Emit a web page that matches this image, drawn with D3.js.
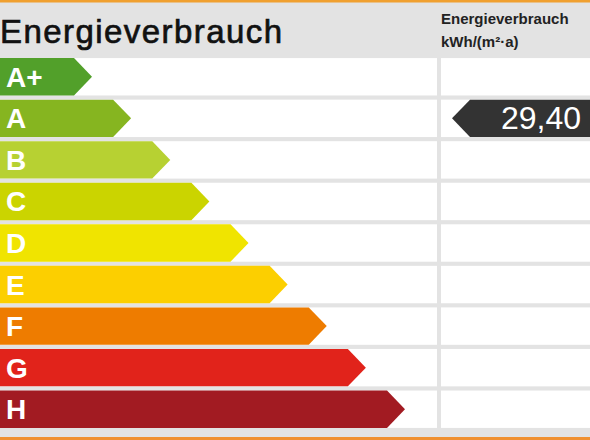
<!DOCTYPE html>
<html>
<head>
<meta charset="utf-8">
<script src="https://cdn.jsdelivr.net/npm/d3@7"></script>
<style>
  body { margin: 0; background: #fff; }
  text { font-family: "Liberation Sans", Arial, sans-serif; }
</style>
</head>
<body>
<script>
// energy label: classes, colours, and the one value
var classes = ["A+", "A", "B", "C", "D", "E", "F", "G", "H"];
var colors = ["#52a02a", "#86b520", "#b7d132", "#cbd400", "#f0e400", "#fccf00", "#ee7c00", "#e1231b", "#a21b22"];
var valueClass = "A";
var valueLabel = "29,40";

var w = 590, h = 440;
var svg = d3.select("body").append("svg").attr("width", w).attr("height", h);

// background grey + orange borders
svg.append("rect").attr("width", w).attr("height", h).attr("fill", "#e3e3e3");
svg.append("rect").attr("width", w).attr("height", 2.5).attr("fill", "#f0a030");
svg.append("rect").attr("y", 437).attr("width", w).attr("height", 3).attr("fill", "#f09030");

var y = d3.scaleBand().domain(classes).range([56, 430]).paddingInner(0.1).paddingOuter(0.05);
var tip = d3.scaleLinear().domain([0, classes.length - 1]).range([92, 405]);

// white row cells
var rows = svg.selectAll("g.row").data(classes).enter().append("g")
  .attr("transform", function(d) { return "translate(0," + y(d) + ")"; });
rows.append("rect").attr("x", 0).attr("width", 437).attr("height", y.bandwidth()).attr("fill", "#fff");
rows.append("rect").attr("x", 441).attr("width", w - 441).attr("height", y.bandwidth()).attr("fill", "#fff");

// arrows
rows.append("path")
  .attr("d", function(d, i) {
    var t = tip(i), bh = y.bandwidth();
    return "M0,0H" + (t - 18) + "L" + t + "," + bh / 2 + "L" + (t - 18) + "," + bh + "H0Z";
  })
  .attr("fill", function(d, i) { return colors[i]; });
rows.append("text").attr("x", 6).attr("y", y.bandwidth() / 2 + 10)
  .attr("fill", "#fff").attr("font-weight", "bold").attr("font-size", 28)
  .text(function(d) { return d; });

// value marker
var vy = y(valueClass), bh = y.bandwidth();
svg.append("path")
  .attr("d", "M452," + (vy + bh / 2) + "L470," + vy + "H590V" + (vy + bh) + "H470Z")
  .attr("fill", "#333");
svg.append("text").attr("x", 581).attr("y", vy + bh / 2 + 11).attr("text-anchor", "end")
  .attr("fill", "#fff").attr("font-size", 32).text(valueLabel);

// headings
svg.append("text").attr("x", 0).attr("y", 43).attr("font-size", 33).attr("fill", "#111")
  .attr("stroke", "#111").attr("stroke-width", 0.7).attr("textLength", 282)
  .text("Energieverbrauch");
svg.append("text").attr("x", 441).attr("y", 24).attr("font-size", 15).attr("font-weight", "bold").attr("fill", "#222")
  .text("Energieverbrauch");
svg.append("text").attr("x", 441).attr("y", 47).attr("font-size", 15).attr("font-weight", "bold").attr("fill", "#222")
  .text("kWh/(m²·a)");
</script>
</body>
</html>
